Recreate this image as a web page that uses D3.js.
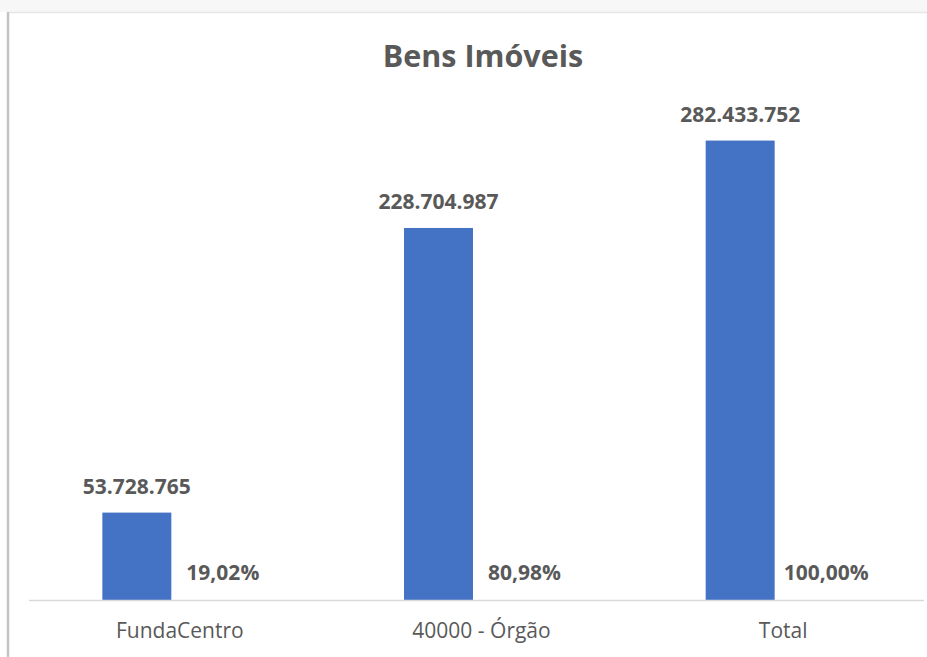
<!DOCTYPE html>
<html>
<head>
<meta charset="utf-8">
<script src="https://cdn.jsdelivr.net/npm/d3@7"></script>
<style>
  html, body { margin: 0; padding: 0; background: #ffffff; }
  svg { display: block; }
  text { font-family: "Open Sans", "Noto Sans", sans-serif; fill: #595959; }
</style>
</head>
<body>
<svg id="chart" width="927" height="657"></svg>
<script>
// Bens Imóveis: valor por unidade e participação no total
const categories = ["FundaCentro", "40000 - Órgão", "Total"];
const valores = [53728765, 228704987, 282433752];
const percentuais = [0.1902, 0.8098, 1.0];
const valorLabels = ["53.728.765", "228.704.987", "282.433.752"];
const percentLabels = ["19,02%", "80,98%", "100,00%"];
const series = ["valor", "percentual"];
const yMax = 300000000;

const W = 927, H = 657;
const svg = d3.select("#chart");

// chart frame (the chart area runs past the right edge)
svg.append("rect").attr("x", 0).attr("y", 0).attr("width", W).attr("height", 12).attr("fill", "#f7f7f7");
svg.append("line").attr("x1", 7).attr("x2", W).attr("y1", 12.5).attr("y2", 12.5)
  .attr("stroke", "#e6e6e6").attr("stroke-width", 1.5);
svg.append("line").attr("x1", 8).attr("x2", 8).attr("y1", 12).attr("y2", H)
  .attr("stroke", "#c4c4c4").attr("stroke-width", 2.5);

const plot = { left: 29, right: 934, top: 112, bottom: 600 };

const x0 = d3.scaleBand().domain(categories).range([plot.left, plot.right]).padding(0);
const bw = x0.bandwidth();
const x1 = d3.scaleBand().domain(series)
  .range([bw / 2 - 86, bw / 2 + 86]).paddingInner(0.198).paddingOuter(0.099);
const y = d3.scaleLinear().domain([0, yMax]).range([plot.bottom, plot.top]);

// title
svg.append("text").attr("x", 483).attr("y", 67).attr("text-anchor", "middle")
  .attr("font-size", 30.5).attr("font-weight", "bold").text("Bens Imóveis");

const data = categories.map((c, i) => ({
  cat: c, valor: valores[i], pct: percentuais[i],
  vLabel: valorLabels[i], pLabel: percentLabels[i]
}));

const g = svg.append("g");

// value bars
g.selectAll("rect.bar").data(data).enter().append("rect")
  .attr("class", "bar")
  .attr("x", d => x0(d.cat) + x1("valor"))
  .attr("width", x1.bandwidth())
  .attr("y", d => y(d.valor))
  .attr("height", d => y(0) - y(d.valor))
  .attr("fill", "#4472C4");

// percentage series: bars collapse on the baseline, only labels show
g.selectAll("rect.pct").data(data).enter().append("rect")
  .attr("class", "pct")
  .attr("x", d => x0(d.cat) + x1("percentual"))
  .attr("width", x1.bandwidth())
  .attr("y", d => y(d.pct))
  .attr("height", d => y(0) - y(d.pct))
  .attr("fill", "none");

// value labels
g.selectAll("text.vlab").data(data).enter().append("text")
  .attr("class", "vlab")
  .attr("x", d => x0(d.cat) + x1("valor") + x1.bandwidth() / 2)
  .attr("y", d => y(d.valor) - 19)
  .attr("text-anchor", "middle")
  .attr("font-size", 21).attr("font-weight", "bold")
  .text(d => d.vLabel);

// percentage labels
g.selectAll("text.plab").data(data).enter().append("text")
  .attr("class", "plab")
  .attr("x", d => x0(d.cat) + x1("percentual") + x1.bandwidth() / 2)
  .attr("y", d => y(d.pct) - 20)
  .attr("text-anchor", "middle")
  .attr("font-size", 21).attr("font-weight", "bold")
  .text(d => d.pLabel);

// category axis
const xAxis = svg.append("g").attr("transform", `translate(0,${plot.bottom})`)
  .call(d3.axisBottom(x0).tickSize(0).tickPadding(0));
xAxis.select(".domain").attr("stroke", "#d9d9d9").attr("stroke-width", 1.5)
  .attr("d", `M${plot.left},0.5H924`);
xAxis.selectAll(".tick text")
  .attr("y", 38).attr("dy", null)
  .attr("font-size", 21)
  .style("font-family", "'Open Sans', 'Noto Sans', sans-serif")
  .attr("fill", "#595959");
</script>
</body>
</html>
